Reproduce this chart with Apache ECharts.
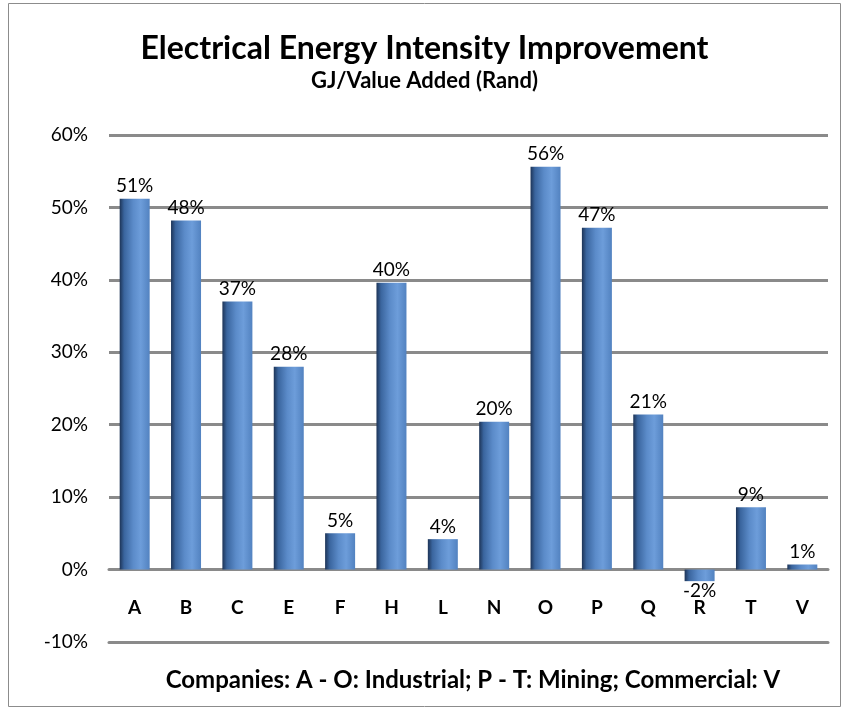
<!DOCTYPE html>
<html>
<head>
<meta charset="utf-8">
<script src="https://cdn.jsdelivr.net/npm/echarts@6/dist/echarts.min.js"></script>
<style>
  html, body { margin: 0; padding: 0; background: #fff; }
  #chart { width: 849px; height: 710px; }
</style>
</head>
<body>
<div id="chart"></div>
<script>
  'use strict';

  // values (fractions, labels show rounded %)
  const companies = ['A', 'B', 'C', 'E', 'F', 'H', 'L', 'N', 'O', 'P', 'Q', 'R', 'T', 'V'];
  const improvement = [0.512, 0.482, 0.37, 0.28, 0.05, 0.396, 0.042, 0.204, 0.556, 0.472, 0.214, -0.016, 0.086, 0.007];
  const yTicks = [-0.1, 0, 0.1, 0.2, 0.3, 0.4, 0.5, 0.6];

  const titleText = 'Electrical Energy Intensity Improvement';
  const subtitleText = 'GJ/Value Added (Rand)';
  const xAxisTitle = 'Companies: A - O: Industrial; P - T: Mining; Commercial: V';

  const font = 'Lato, "Open Sans", sans-serif';
  const gridGray = '#8a8a8a';

  const pct = v => Math.round(v * 100) + '%';

  // plot area
  const grid = { left: 109, right: 21, top: 135, bottom: 68, outerBoundsMode: 'none' };
  const plotH = 710 - grid.top - grid.bottom;
  const yMin = yTicks[0];
  const yMax = yTicks[yTicks.length - 1];
  // move category axis up from the bottom edge to the 0% line
  const zeroOffset = -plotH * (0 - yMin) / (yMax - yMin);

  const barFill = new echarts.graphic.LinearGradient(0, 0, 1, 0, [
    { offset: 0, color: '#1d3457' },
    { offset: 0.15, color: '#3a659e' },
    { offset: 0.45, color: '#5b8bc9' },
    { offset: 0.7, color: '#6d9dda' },
    { offset: 1, color: '#5282c0' }
  ]);

  const chart = echarts.init(document.getElementById('chart'));

  chart.setOption({
    animation: false,
    textStyle: { fontFamily: font },
    title: [
      {
        text: titleText,
        left: 'center',
        top: 28,
        textStyle: { fontSize: 32, fontWeight: 'bold', color: '#000', fontFamily: font }
      },
      {
        text: subtitleText,
        left: 'center',
        top: 65,
        textStyle: { fontSize: 22, fontWeight: 'bold', color: '#000', fontFamily: font }
      },
      {
        text: xAxisTitle,
        left: 468,
        textAlign: 'center',
        top: 663,
        textStyle: { fontSize: 24, fontWeight: 'bold', color: '#000', fontFamily: font }
      }
    ],
    graphic: [
      {
        type: 'rect',
        shape: { x: 8.5, y: 3.5, width: 832, height: 703 },
        style: { fill: 'none', stroke: '#8c8c8c', lineWidth: 1 },
        silent: true
      }
    ],
    // second grid on the same rect only draws the -10% line at the bottom
    grid: [grid, Object.assign({}, grid)],
    xAxis: [
      {
        type: 'category',
        gridIndex: 0,
        data: companies,
        offset: zeroOffset,
        axisLine: { onZero: false, lineStyle: { color: gridGray, width: 3 } },
        axisTick: { show: false },
        axisLabel: { margin: 29, fontSize: 19, fontWeight: 'bold', color: '#000', fontFamily: font }
      },
      {
        type: 'category',
        gridIndex: 1,
        position: 'bottom',
        data: companies,
        axisLine: { show: true, onZero: false, lineStyle: { color: gridGray, width: 3 } },
        axisTick: { show: false },
        axisLabel: { show: false }
      }
    ],
    yAxis: [
      {
        type: 'value',
        gridIndex: 0,
        min: yMin,
        max: yMax,
        interval: 0.1,
        axisLine: { show: false },
        axisTick: { show: false },
        axisLabel: { margin: 21, fontSize: 19, color: '#000', fontFamily: font, formatter: pct },
        splitLine: { lineStyle: { color: gridGray, width: 3 } }
      },
      {
        type: 'value',
        gridIndex: 1,
        min: yMin,
        max: yMax,
        axisLine: { show: false },
        axisTick: { show: false },
        axisLabel: { show: false },
        splitLine: { show: false }
      }
    ],
    series: [
      {
        type: 'bar',
        xAxisIndex: 0,
        yAxisIndex: 0,
        barWidth: 30,
        clip: false,
        z: 3,
        data: improvement.map(v => ({
          value: v,
          label: { position: v < 0 ? 'bottom' : 'top', distance: v < 0 ? 0 : 3 }
        })),
        itemStyle: { color: barFill },
        label: {
          show: true,
          fontSize: 19,
          color: '#000',
          fontFamily: font,
          formatter: p => pct(p.value)
        },
        // the -10% gridline at the bottom edge is not drawn by the axis, add it here too
        markLine: {
          silent: true,
          symbol: 'none',
          label: { show: false },
          lineStyle: { color: gridGray, width: 3, type: 'solid' },
          data: [{ yAxis: yMin }]
        }
      }
    ]
  });
</script>
</body>
</html>
